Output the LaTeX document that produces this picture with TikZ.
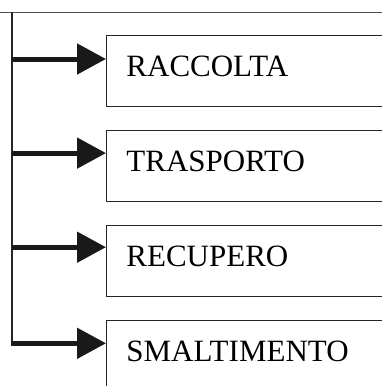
\documentclass[tikz,border=0pt]{standalone}
\usepackage{fontspec}
\setmainfont{Liberation Serif}
\usetikzlibrary{positioning,arrows.meta}

\begin{document}
\begin{tikzpicture}[x=1pt,y=1pt,
    phasebox/.style={draw=black!85,line width=0.9pt,anchor=north west,
      minimum width=320pt,minimum height=70.5pt,text width=280pt,
      inner xsep=20pt,align=left,text height=21pt,text depth=10pt,
      font=\fontsize{31}{37}\selectfont},
    feed/.style={line width=5pt,black!90,-{Triangle[length=29pt,width=30pt]}},
    spine/.style={line width=1.3pt,black!85}]
                \useasboundingbox (0,0) rectangle (382,-386);
                \clip (0,0) rectangle (382,-386);

                \coordinate (left) at (0,-12);
                \coordinate (right) at (382,-12);
                \coordinate (top) at (12,-12);

                \node[phasebox] (raccolta) at (106,-35) {RACCOLTA};
                \node[phasebox,below=23.7pt of raccolta.south west,anchor=north west] (trasporto) {TRASPORTO};
                \node[phasebox,below=23.7pt of trasporto.south west,anchor=north west] (recupero) {RECUPERO};
                \node[phasebox,below=23.7pt of recupero.south west,anchor=north west] (smaltimento) {SMALTIMENTO};

                \coordinate (in1) at ([yshift=-24pt]raccolta.north west);
                \coordinate (in2) at ([yshift=-23pt]trasporto.north west);
                \coordinate (in3) at ([yshift=-22pt]recupero.north west);
                \coordinate (in4) at ([yshift=-23pt]smaltimento.north west);

                \draw[line width=1pt,black!70] (left) -- (right);
                \draw[spine] (top) -- (top |- in4);

                \draw[feed] (top |- in1) -- (in1);
                \draw[feed] (top |- in2) -- (in2);
                \draw[feed] (top |- in3) -- (in3);
                \draw[feed] ([xshift=-0.65pt]top |- in4) -- (in4);
            \end{tikzpicture}
\end{document}
